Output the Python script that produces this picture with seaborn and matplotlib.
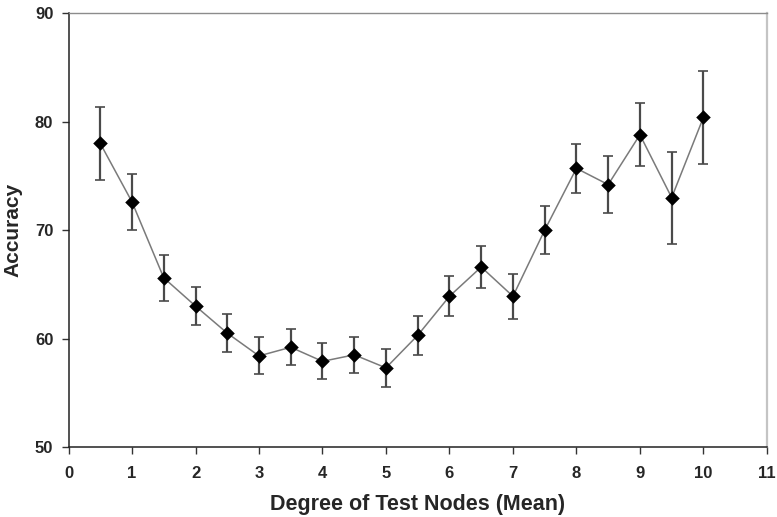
import matplotlib
matplotlib.use("Agg")
import matplotlib.pyplot as plt
import seaborn as sns
import pandas as pd

# Mean test-node degree and classification accuracy with error half-widths
degree = [0.5, 1.0, 1.5, 2.0, 2.5, 3.0, 3.5, 4.0, 4.5, 5.0,
          5.5, 6.0, 6.5, 7.0, 7.5, 8.0, 8.5, 9.0, 9.5, 10.0]
accuracy = [78.0, 72.6, 65.6, 63.0, 60.5, 58.4, 59.2, 57.9, 58.5, 57.3,
            60.3, 63.9, 66.6, 63.9, 70.0, 75.7, 74.2, 78.8, 73.0, 80.4]
error = [3.35, 2.6, 2.1, 1.75, 1.75, 1.7, 1.65, 1.65, 1.65, 1.75,
         1.8, 1.85, 1.9, 2.05, 2.2, 2.25, 2.6, 2.9, 4.25, 4.3]
x_ticks = list(range(0, 12))
y_ticks = [50, 60, 70, 80, 90]

df = pd.DataFrame({"degree": degree, "accuracy": accuracy, "error": error})

sns.set_theme(style="white")
plt.rcParams["font.family"] = ["Liberation Sans", "DejaVu Sans"]

fig = plt.figure(figsize=(7.77, 5.17), dpi=100)
ax = fig.add_axes([0.0882, 0.1354, 0.8988, 0.8389])

ax.errorbar(df["degree"], df["accuracy"], yerr=df["error"], fmt="none",
            ecolor="#4a4a4a", elinewidth=1.6, capsize=3.5, capthick=1.2, zorder=2)
sns.lineplot(data=df, x="degree", y="accuracy", ax=ax, color="#7a7a7a",
             linewidth=1.1, zorder=3)
sns.scatterplot(data=df, x="degree", y="accuracy", ax=ax, marker="D", s=55,
                color="black", edgecolor="black", linewidth=0, zorder=4)

ax.set_xlim(0, 11)
ax.set_ylim(50, 90)
ax.set_xticks(x_ticks)
ax.set_yticks(y_ticks)
ax.set_xticklabels([str(t) for t in x_ticks], fontweight="bold", fontsize=12)
ax.set_yticklabels([str(t) for t in y_ticks], fontweight="bold", fontsize=12)
ax.tick_params(axis="both", direction="out", length=5, width=1, color="#333333",
               bottom=True, left=True)
ax.tick_params(axis="x", pad=9)
ax.tick_params(axis="y", pad=6)

ax.set_xlabel("Degree of Test Nodes (Mean)", fontweight="bold", fontsize=15.5, labelpad=9)
ax.set_ylabel("Accuracy", fontweight="bold", fontsize=15, labelpad=9)

for side in ["left", "bottom"]:
    ax.spines[side].set_color("#222222")
    ax.spines[side].set_linewidth(1.1)
ax.spines["top"].set_color("#8c8c8c")
ax.spines["top"].set_linewidth(1.0)
ax.spines["right"].set_color("#c4c4c4")
ax.spines["right"].set_linewidth(1.6)
ax.grid(False)

fig.savefig("out.png", dpi=100)
